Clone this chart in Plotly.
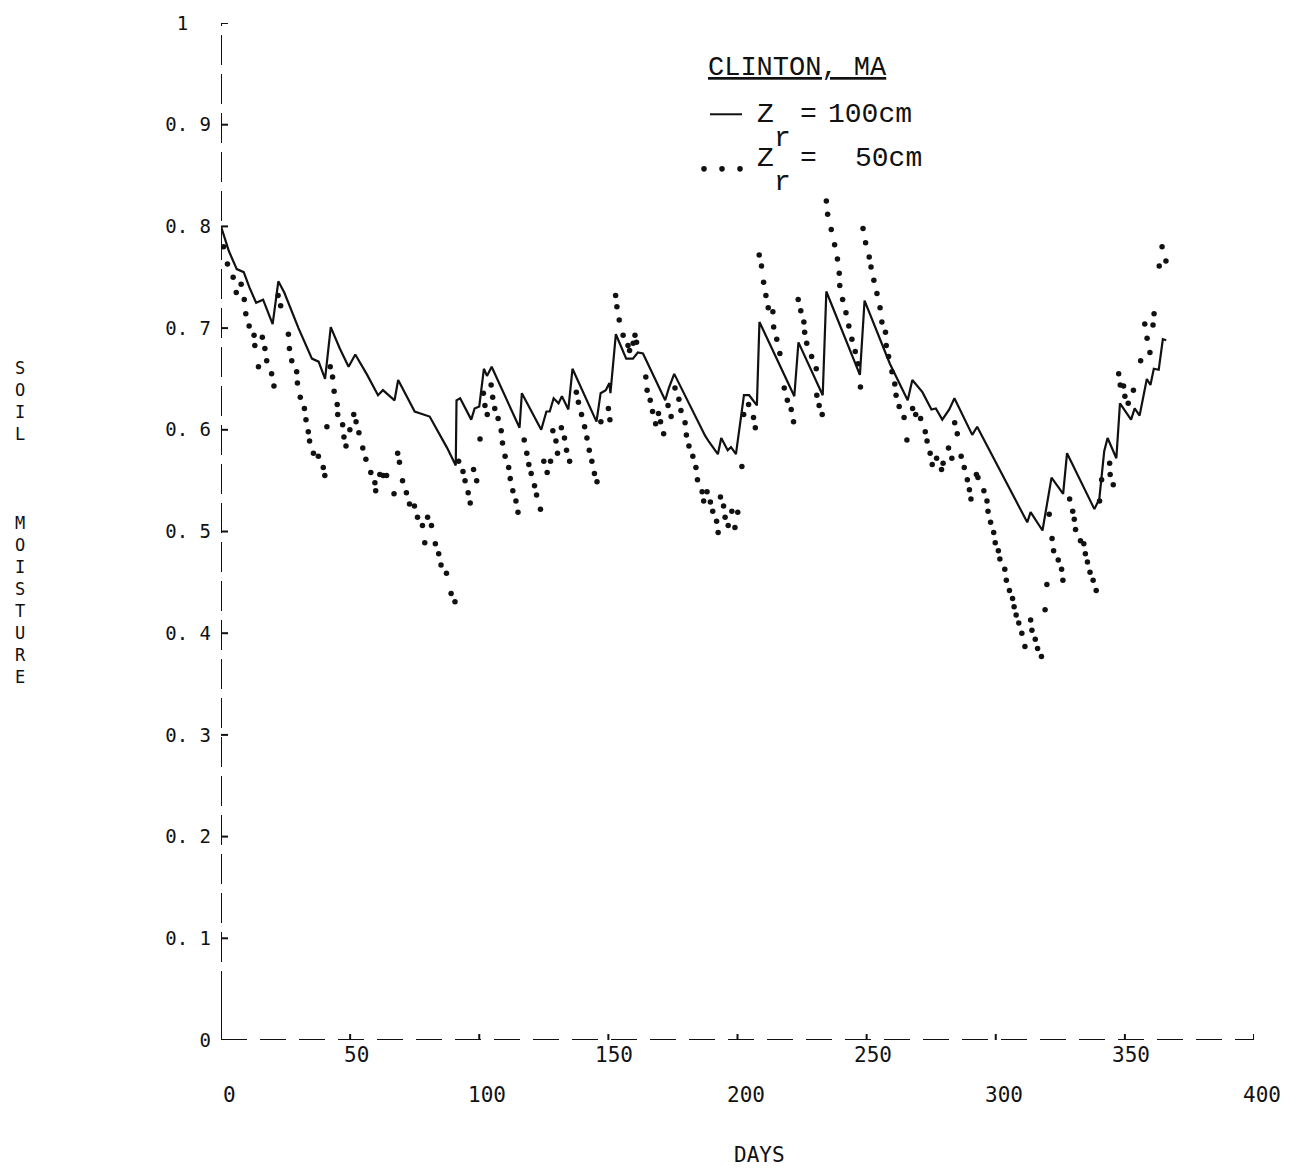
import plotly.graph_objects as go

# Soil moisture, Clinton MA: root zone depth 100 cm (solid) and 50 cm (dotted)
solid_days = [0, 3, 6.1, 8.8, 11, 13.6, 16.3, 20, 22.2, 24.5,
              30, 35.2, 37.8, 40.3, 42.5, 46, 49.4, 52, 56.6, 60.8,
              62.7, 67.2, 68.6, 75, 80.8, 87.6, 90.9, 91.2, 92.6, 96.9,
              98.2, 100, 101.8, 103, 104.8, 115.6, 116.5, 124, 126, 127.3,
              128.8, 130.7, 132, 134.5, 136.1, 145.4, 147, 149, 150.4, 150.8,
              152.9, 156.9, 159.5, 161.4, 163.4, 172, 173.4, 175.5, 187.5, 189,
              192.4, 193.7, 196.2, 197.5, 199.4, 202.5, 204.5, 207.5, 208.5, 222,
              223.6, 232, 233, 234.4, 247.4, 249.2, 259, 265.9, 267.7, 271.6,
              275.1, 276.8, 279.3, 282, 284, 290.9, 292.8, 312.2, 313.5, 318.1,
              321.6, 326.1, 327.6, 338.2, 340.1, 342, 343.3, 346.7, 348.1, 352.4,
              353.8, 355.7, 358.5, 359.9, 361.2, 363.1, 364.7, 366]
solid_vals = [0.800, 0.776, 0.758, 0.755, 0.740, 0.725, 0.728, 0.704, 0.746, 0.735,
              0.700, 0.670, 0.667, 0.650, 0.701, 0.680, 0.662, 0.674, 0.654, 0.634,
              0.639, 0.629, 0.649, 0.618, 0.613, 0.582, 0.565, 0.629, 0.631, 0.610,
              0.621, 0.623, 0.660, 0.653, 0.662, 0.602, 0.636, 0.600, 0.618, 0.618,
              0.631, 0.626, 0.633, 0.620, 0.660, 0.608, 0.636, 0.639, 0.646, 0.636,
              0.694, 0.670, 0.670, 0.676, 0.675, 0.629, 0.641, 0.655, 0.594, 0.588,
              0.576, 0.592, 0.580, 0.583, 0.576, 0.634, 0.634, 0.624, 0.706, 0.633,
              0.686, 0.639, 0.634, 0.736, 0.654, 0.727, 0.665, 0.629, 0.649, 0.637,
              0.620, 0.621, 0.610, 0.620, 0.631, 0.595, 0.603, 0.509, 0.519, 0.501,
              0.553, 0.537, 0.577, 0.522, 0.532, 0.579, 0.592, 0.572, 0.626, 0.610,
              0.621, 0.614, 0.650, 0.644, 0.660, 0.659, 0.689, 0.688]

dot_days = [1.0, 2.5, 4.7, 5.9, 7.8, 9.0, 9.6, 10.9, 12.8, 13.1,
            14.5, 16.0, 17.0, 17.7, 19.6, 20.5, 22.1, 23.1, 26.1, 26.5,
            27.4, 29.3, 29.6, 30.7, 32.3, 32.9, 33.8, 34.3, 35.8, 37.7,
            39.6, 40.2, 41.0, 42.3, 43.2, 43.8, 45.0, 45.2, 47.1, 47.6,
            48.4, 49.9, 51.4, 52.3, 53.4, 54.9, 56.1, 58.0, 59.6, 59.9,
            61.5, 62.8, 64.1, 67.0, 68.4, 69.1, 70.3, 71.8, 73.0, 74.9,
            76.1, 78.0, 78.9, 80.0, 81.5, 83.0, 84.3, 85.2, 87.3, 89.1,
            90.6, 92.0, 93.7, 94.5, 95.7, 96.5, 97.8, 99.0, 100.3, 101.6,
            102.2, 103.1, 104.6, 105.2, 106.0, 107.3, 108.5, 109.0, 110.0, 111.4,
            112.0, 113.0, 114.2, 115.0, 117.4, 118.4, 119.2, 120.1, 121.4, 122.2,
            123.7, 125.0, 126.3, 127.6, 128.5, 129.7, 130.3, 131.8, 133.0, 133.8,
            135.0, 137.6, 138.4, 139.6, 140.8, 141.7, 142.6, 143.6, 144.6, 145.6,
            147.1, 150.0, 150.6, 152.8, 153.3, 154.2, 155.7, 157.6, 158.2, 159.6,
            160.3, 160.9, 164.5, 165.0, 166.2, 167.1, 168.3, 169.4, 170.2, 171.4,
            173.1, 174.3, 175.8, 177.3, 178.1, 179.7, 180.2, 181.2, 182.7, 183.9,
            184.5, 186.3, 186.9, 188.2, 189.5, 190.4, 191.9, 192.5, 193.4, 194.6,
            195.2, 196.4, 197.8, 199.0, 200.1, 201.7, 202.4, 204.3, 206.2, 206.9,
            208.4, 209.3, 210.1, 211.0, 211.9, 213.7, 214.0, 215.2, 216.4, 218.1,
            219.3, 220.8, 221.7, 223.5, 224.5, 225.7, 226.0, 226.8, 228.7, 230.5,
            230.7, 231.6, 232.8, 234.4, 234.9, 236.3, 237.6, 238.7, 239.4, 239.6,
            240.7, 242.0, 243.1, 244.3, 245.6, 246.7, 247.6, 248.6, 249.6, 251.0,
            251.7, 252.8, 254.0, 255.2, 255.9, 257.3, 257.6, 258.5, 259.8, 260.9,
            261.4, 262.6, 264.5, 265.6, 267.8, 269.0, 270.9, 272.7, 273.4, 274.6,
            275.4, 277.1, 279.0, 279.6, 281.7, 283.0, 284.1, 285.1, 286.6, 287.8,
            289.0, 289.8, 290.4, 292.5, 293.1, 295.4, 296.6, 297.0, 298.0, 299.2,
            299.8, 301.0, 301.6, 303.5, 304.1, 305.3, 306.5, 307.1, 307.9, 308.9,
            310.1, 311.3, 313.5, 314.0, 315.3, 316.2, 317.7, 319.1, 319.8, 320.7,
            321.8, 322.4, 324.2, 325.5, 326.0, 328.6, 329.8, 330.4, 330.9, 332.8,
            334.1, 334.7, 335.5, 336.5, 337.7, 338.9, 340.2, 341.0, 344.1, 344.3,
            345.5, 347.6, 348.2, 349.5, 350.0, 351.3, 353.3, 356.1, 357.7, 358.6,
            359.7, 360.9, 361.3, 363.3, 364.4, 365.9]
dot_vals = [0.780, 0.763, 0.750, 0.735, 0.743, 0.728, 0.714, 0.702, 0.693, 0.683,
            0.662, 0.691, 0.680, 0.668, 0.655, 0.643, 0.732, 0.722, 0.694, 0.680,
            0.668, 0.657, 0.646, 0.632, 0.621, 0.610, 0.598, 0.589, 0.577, 0.574,
            0.563, 0.555, 0.603, 0.662, 0.652, 0.638, 0.625, 0.615, 0.605, 0.593,
            0.584, 0.600, 0.615, 0.608, 0.597, 0.582, 0.571, 0.558, 0.548, 0.540,
            0.556, 0.555, 0.555, 0.537, 0.577, 0.568, 0.550, 0.538, 0.527, 0.525,
            0.514, 0.506, 0.489, 0.514, 0.506, 0.488, 0.478, 0.467, 0.459, 0.439,
            0.431, 0.569, 0.559, 0.550, 0.538, 0.528, 0.561, 0.550, 0.591, 0.636,
            0.624, 0.615, 0.644, 0.632, 0.621, 0.611, 0.599, 0.587, 0.574, 0.563,
            0.552, 0.540, 0.530, 0.519, 0.590, 0.577, 0.566, 0.557, 0.545, 0.536,
            0.522, 0.569, 0.558, 0.569, 0.599, 0.589, 0.577, 0.602, 0.592, 0.580,
            0.569, 0.637, 0.627, 0.615, 0.603, 0.592, 0.580, 0.569, 0.557, 0.549,
            0.608, 0.621, 0.610, 0.732, 0.721, 0.708, 0.693, 0.683, 0.678, 0.685,
            0.693, 0.686, 0.652, 0.639, 0.629, 0.618, 0.606, 0.616, 0.608, 0.596,
            0.624, 0.613, 0.641, 0.630, 0.619, 0.607, 0.595, 0.584, 0.574, 0.563,
            0.551, 0.539, 0.530, 0.539, 0.529, 0.520, 0.510, 0.499, 0.534, 0.525,
            0.514, 0.506, 0.520, 0.504, 0.519, 0.564, 0.615, 0.625, 0.612, 0.602,
            0.772, 0.761, 0.745, 0.732, 0.720, 0.716, 0.701, 0.689, 0.675, 0.641,
            0.629, 0.620, 0.608, 0.728, 0.717, 0.706, 0.696, 0.685, 0.672, 0.660,
            0.634, 0.624, 0.615, 0.825, 0.812, 0.797, 0.782, 0.768, 0.754, 0.742,
            0.728, 0.715, 0.702, 0.689, 0.677, 0.665, 0.642, 0.798, 0.784, 0.770,
            0.760, 0.747, 0.734, 0.720, 0.706, 0.696, 0.683, 0.672, 0.657, 0.645,
            0.634, 0.623, 0.612, 0.590, 0.621, 0.615, 0.611, 0.598, 0.589, 0.577,
            0.566, 0.572, 0.561, 0.567, 0.582, 0.572, 0.607, 0.596, 0.574, 0.563,
            0.551, 0.541, 0.532, 0.556, 0.553, 0.540, 0.530, 0.520, 0.509, 0.499,
            0.489, 0.481, 0.473, 0.463, 0.452, 0.442, 0.434, 0.426, 0.418, 0.410,
            0.400, 0.387, 0.413, 0.403, 0.394, 0.385, 0.377, 0.423, 0.448, 0.517,
            0.493, 0.481, 0.472, 0.463, 0.452, 0.532, 0.520, 0.512, 0.502, 0.491,
            0.488, 0.478, 0.470, 0.460, 0.452, 0.442, 0.530, 0.551, 0.567, 0.556,
            0.546, 0.655, 0.644, 0.643, 0.633, 0.626, 0.639, 0.668, 0.704, 0.690,
            0.676, 0.703, 0.714, 0.761, 0.780, 0.766]

y_ticks = [0, 0.1, 0.2, 0.3, 0.4, 0.5, 0.6, 0.7, 0.8, 0.9, 1.0]
y_tick_text = ["0", "0. 1", "0. 2", "0. 3", "0. 4", "0. 5",
               "0. 6", "0. 7", "0. 8", "0. 9", "1\u00a0\u00a0"]
x_ticks = [50, 100, 150, 200, 250, 300, 350, 400]
x_labels_upper = [50, 150, 250, 350]
x_labels_lower = [0, 100, 200, 300, 400]
y_title_letters = ["S", "O", "I", "L", "", "", "", "M", "O", "I", "S", "T", "U", "R", "E"]

W, H = 1299, 1171
ML, MR, MT, MB = 221, 45, 15, 131
PW, PH = W - ML - MR, H - MT - MB

def px(x):
    return (x - ML) / PW

def py(y):
    return (H - MB - y) / PH

INK = "#111111"
MONO = "DejaVu Sans Mono"
TYPE = "Liberation Mono"

fig = go.Figure()
fig.add_trace(go.Scatter(x=solid_days, y=solid_vals, mode="lines",
                         line=dict(color=INK, width=2.2), showlegend=False,
                         hoverinfo="skip"))
fig.add_trace(go.Scatter(x=dot_days, y=dot_vals, mode="markers",
                         marker=dict(color=INK, size=5.5, line=dict(width=0)),
                         showlegend=False, hoverinfo="skip"))

shapes = []
# dashed axes, with a solid corner at the origin
shapes.append(dict(type="line", xref="x", yref="y", x0=0, x1=0, y0=0, y1=1,
                   line=dict(color=INK, width=2, dash="30px,9px")))
shapes.append(dict(type="line", xref="x", yref="y", x0=0, x1=400, y0=0, y1=0,
                   line=dict(color=INK, width=2, dash="26px,13px")))
shapes.append(dict(type="line", xref="x", yref="y", x0=0, x1=9, y0=0, y1=0,
                   line=dict(color=INK, width=2)))
shapes.append(dict(type="line", xref="x", yref="y", x0=0, x1=0, y0=0, y1=0.04,
                   line=dict(color=INK, width=2)))
# cross-shaped tick marks
for v in y_ticks[1:]:
    shapes.append(dict(type="line", xref="x", yref="y", xsizemode="pixel",
                       xanchor=0, x0=-7, x1=7, y0=v, y1=v,
                       line=dict(color=INK, width=2)))
for d in x_ticks:
    shapes.append(dict(type="line", xref="x", yref="y", ysizemode="pixel",
                       yanchor=0, y0=-6, y1=6, x0=d, x1=d,
                       line=dict(color=INK, width=2)))
# legend samples
shapes.append(dict(type="line", xref="paper", yref="paper",
                   x0=px(710), x1=px(742), y0=py(107), y1=py(107),
                   line=dict(color=INK, width=2)))
for lx in [704, 722, 740]:
    shapes.append(dict(type="circle", xref="paper", yref="paper",
                       xsizemode="pixel", ysizemode="pixel",
                       xanchor=px(lx), yanchor=py(162),
                       x0=-2.8, x1=2.8, y0=-2.8, y1=2.8,
                       fillcolor=INK, line=dict(width=0)))

ann = []
for v in x_labels_upper:
    ann.append(dict(x=v, xref="x", y=py(1055), yref="paper", text=str(v),
                    showarrow=False, xshift=6, yanchor="middle",
                    font=dict(family=MONO, size=21, color=INK)))
for v in x_labels_lower:
    ann.append(dict(x=v, xref="x", y=py(1095), yref="paper", text=str(v),
                    showarrow=False, xshift=8, yanchor="middle",
                    font=dict(family=MONO, size=21, color=INK)))
ann.append(dict(x=px(759), xref="paper", y=py(1156), yref="paper", text="DAYS",
                showarrow=False, yanchor="middle",
                font=dict(family=MONO, size=21, color=INK)))
ann.append(dict(x=px(13), xref="paper", y=py(518), yref="paper",
                text="<br>".join(y_title_letters), showarrow=False,
                yanchor="middle",
                font=dict(family=MONO, size=17, color=INK)))

legend_font = dict(family=TYPE, size=28, color=INK)
ann.append(dict(x=px(706), xref="paper", y=py(60), yref="paper",
                text="<u>CLINTON, MA</u>", showarrow=False, xanchor="left",
                yanchor="middle", font=dict(family=TYPE, size=27, color=INK)))
for row_y, value_text, value_x in [(107, "100cm", 826), (152, "50cm", 853)]:
    ann.append(dict(x=px(755), xref="paper", y=py(row_y), yref="paper",
                    text="Z", showarrow=False, xanchor="left", yanchor="middle",
                    font=legend_font))
    ann.append(dict(x=px(772), xref="paper", y=py(row_y + 24), yref="paper",
                    text="r", showarrow=False, xanchor="left", yanchor="middle",
                    font=legend_font))
    ann.append(dict(x=px(798), xref="paper", y=py(row_y), yref="paper",
                    text="=", showarrow=False, xanchor="left", yanchor="middle",
                    font=legend_font))
    ann.append(dict(x=px(value_x), xref="paper", y=py(row_y), yref="paper",
                    text=value_text, showarrow=False, xanchor="left",
                    yanchor="middle", font=legend_font))

fig.update_layout(
    width=W, height=H,
    margin=dict(l=ML, r=MR, t=MT, b=MB, pad=0),
    paper_bgcolor="white", plot_bgcolor="white",
    xaxis=dict(range=[0, 400], showgrid=False, zeroline=False, showline=False,
               showticklabels=False, ticks=""),
    yaxis=dict(range=[0, 1], showgrid=False, zeroline=False, showline=False,
               tickvals=y_ticks, ticktext=y_tick_text, ticks="",
               ticklabelstandoff=9,
               tickfont=dict(family=MONO, size=19, color=INK)),
    shapes=shapes, annotations=ann,
)

fig.write_html("out.html")
